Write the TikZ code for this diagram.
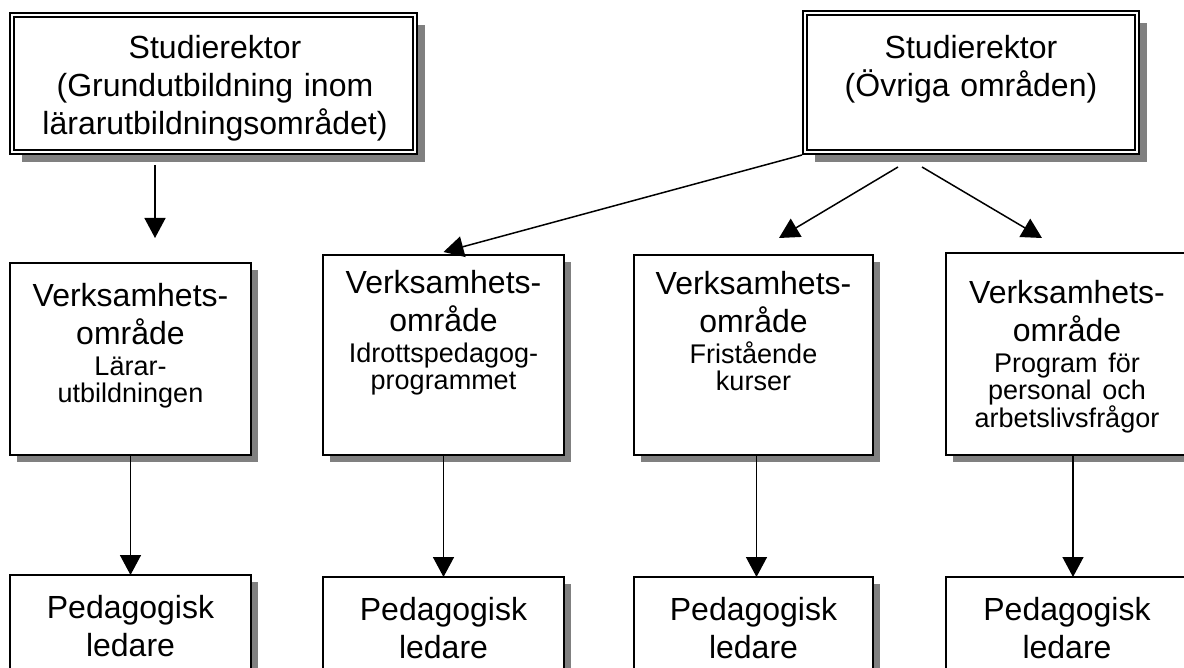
\documentclass[tikz,border=0pt]{standalone}
\usepackage{fontspec}
\setmainfont{Liberation Sans}
\usetikzlibrary{arrows.meta,calc,backgrounds}
\definecolor{shadegray}{gray}{0.5}
\newcommand\mainsize{\fontsize{32}{38}\selectfont}
\newcommand\subsize{\fontsize{27}{27}\selectfont}
\tikzset{
  topbox/.style={draw, line width=2pt, double, double distance=2pt, fill=white,
    inner sep=0pt, outer sep=0pt},
  unitbox/.style={draw, line width=1.5pt, fill=white, inner sep=0pt, outer sep=0pt,
    minimum width=241pt, minimum height=200pt},
  boxtext/.style={inner sep=0pt, outer sep=0pt, anchor=north, text width=236pt,
    align=center, font=\mainsize},
  arr/.style={line width=1.5pt, -{Triangle[length=20pt,width=21pt]}},
}
\begin{document}
\begin{tikzpicture}[x=1pt,y=-1pt]
\useasboundingbox (0,0) rectangle (1184,668);

% heads of studies
\node[topbox, minimum width=403pt, minimum height=137pt] (b1) at (213.5,83.5) {};
\node[topbox, minimum width=332pt, minimum height=139pt] (b2) at (971,82.5) {};

% areas of activity
\node[unitbox, minimum height=192pt] (a1) at (130.5,359) {};
\node[unitbox] (a2) at (443.5,355) {};
\node[unitbox, minimum width=239pt] (a3) at (753.5,355) {};
\node[unitbox, minimum width=242pt, minimum height=202pt] (a4) at (1067,354) {};

% educational leaders
\node[unitbox, minimum height=140pt] (p1) at (130.5,645) {};
\node[unitbox, minimum height=140pt] (p2) at (443.5,647) {};
\node[unitbox, minimum width=239pt, minimum height=140pt] (p3) at (753.5,647) {};
\node[unitbox, minimum width=242pt, minimum height=140pt] (p4) at (1067,647) {};

% drop shadows
\begin{pgfonlayer}{background}
  \foreach \n/\s in {b1/10,b2/10,a1/7,a2/7,a3/7,a4/7,p1/7,p2/7,p3/7,p4/7}
    \fill[shadegray] ($(\n.north west)+(\s,\s)$) rectangle ($(\n.south east)+(\s,\s)$);
\end{pgfonlayer}

% texts
\node[boxtext, text width=400pt] (tb1) at ($(b1.north)+(1.5,20)$)
  {Studierektor\\(Grundutbildning inom\\lärarutbildningsområdet)};
\node[boxtext, text width=330pt] (tb2) at ($(b2.north)+(0,22)$)
  {Studierektor\\(Övriga områden)};

\node[boxtext] (ta1) at ($(a1.north)+(0,20)$)
  {Verksamhets-\\område\par\vspace{4pt}{\subsize Lärar-\\utbildningen\par}};
\node[boxtext] (ta2) at ($(a2.north)+(0,15)$)
  {Verksamhets-\\område\par\vspace{4pt}{\subsize Idrottspedagog-\\programmet\par}};
\node[boxtext] (ta3) at ($(a3.north)+(0,16)$)
  {Verksamhets-\\område\par\vspace{4pt}{\subsize Fristående\\kurser\par}};
\node[boxtext] (ta4) at ($(a4.north)+(0,27)$)
  {Verksamhets-\\område\par\vspace{4pt}{\subsize Program för\\personal och\\arbetslivsfrågor\par}};

\node[boxtext] (tp1) at ($(p1.north)+(0,20)$) {Pedagogisk\\ledare};
\node[boxtext] (tp2) at ($(p2.north)+(0,20)$) {Pedagogisk\\ledare};
\node[boxtext] (tp3) at ($(p3.north)+(0,20)$) {Pedagogisk\\ledare};
\node[boxtext] (tp4) at ($(p4.north)+(0,20)$) {Pedagogisk\\ledare};

% connectors
\draw[arr] ($(b1.south west)+(143,13)$) -- ($(a1.north west)+(145,-25)$);
\draw[arr] ($(b2.south west)+(-3,3)$) -- ($(a2.north)+(0,-3)$);
\draw[arr] ($(b2.south)+(-73,15)$) -- ($(a3.north)+(25.5,-17)$);
\draw[arr] ($(b2.south)+(-49,15)$) -- ($(a4.north)+(-25,-15)$);

\draw[arr] (a1.south) -- (p1.north);
\draw[arr] (a2.south) -- (p2.north);
\draw[arr] ($(a3.south)+(3,0)$) -- ($(p3.north)+(3,0)$);
\draw[arr] ($(a4.south)+(6,0)$) -- ($(p4.north)+(6,0)$);
\end{tikzpicture}
\end{document}
